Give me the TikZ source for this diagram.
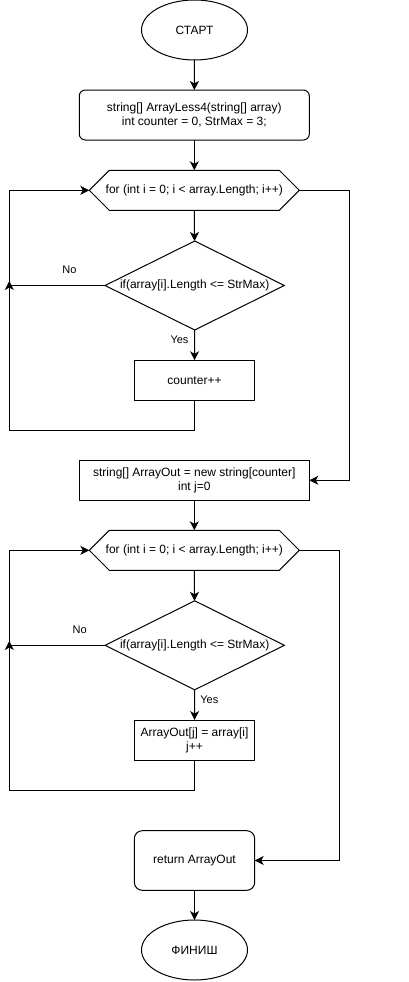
\documentclass[tikz,border=0pt]{standalone}
\usepackage{fontspec}
\setmainfont{Liberation Sans}
\usetikzlibrary{shapes.geometric,arrows.meta}
\begin{document}
\begin{tikzpicture}[x=1pt,y=-1pt,
  font=\fontsize{12}{14.5}\selectfont,
  line width=1pt,
  every node/.style={inner sep=0pt,outer sep=0pt},
  arr/.style={-{Stealth[length=9pt,width=9pt,inset=2.5pt]}},
  term/.style={ellipse,draw,minimum width=106pt,minimum height=60pt},
  proc/.style={rectangle,draw,align=center,minimum height=40.4pt},
  rproc/.style={rectangle,draw,rounded corners=6pt,align=center},
  hexbox/.style={rectangle,minimum width=210pt,minimum height=40pt},
  decbox/.style={rectangle,minimum width=179.3pt,minimum height=89pt},
  lbl/.style={font=\fontsize{11}{13}\selectfont}
]
\useasboundingbox (0,0) rectangle (408,982);

% nodes
\node[term] (start) at (194.5,30) {СТАРТ};
\node[rproc,minimum width=230pt,minimum height=50pt] (b1) at (194.3,115) {string[] ArrayLess4(string[] array)\\int counter = 0, StrMax = 3;};
\node[hexbox] (h1) at (194.3,190.3) {for (int i = 0; i < array.Length; i++)};
\node[decbox] (d1) at (194.7,285.5) {if(array[i].Length <= StrMax)};
\node[proc,minimum width=120.4pt] (c1) at (194.5,380.5) {counter++};
\node[proc,minimum width=230pt] (b2) at (194.3,480.3) {string[] ArrayOut = new string[counter]\\int j=0};
\node[hexbox] (h2) at (194.3,550.3) {for (int i = 0; i < array.Length; i++)};
\node[decbox] (d2) at (194.7,645.3) {if(array[i].Length <= StrMax)};
\node[proc,minimum width=120.4pt,minimum height=40.3pt] (c2) at (194.5,740.2) {ArrayOut[j] = array[i]\\j++};
\node[rproc,minimum width=120.4pt,minimum height=59.6pt,rounded corners=8pt] (ret) at (194.5,860.5) {return ArrayOut};
\node[term] (fin) at (194.5,950) {ФИНИШ};

% hexagon and diamond outlines
\foreach \h in {h1,h2}{
  \draw (\h.west) -- ([xshift=20pt]\h.north west) -- ([xshift=-20pt]\h.north east)
    -- (\h.east) -- ([xshift=-20pt]\h.south east) -- ([xshift=20pt]\h.south west) -- cycle;
}
\foreach \d in {d1,d2}{
  \draw (\d.north) -- (\d.east) -- (\d.south) -- (\d.west) -- cycle;
}

% helper coordinates
\coordinate (no1) at (9.3,281);
\coordinate (lb1) at (9.3,430);
\coordinate (r1) at (349.3,480.3);
\coordinate (no2) at (9.3,641);
\coordinate (lb2) at (9.3,790.3);
\coordinate (r2) at (339.3,860.5);

% connectors
\draw[arr] (start) -- (b1);
\draw[arr] (b1) -- (h1);
\draw[arr] (h1) -- (d1);
\draw[arr] (d1) -- (c1);
\draw[arr] (d1.west) -| (no1);
\draw[arr] (c1.south) |- (lb1) |- (h1.west);
\draw[arr] (h1.east) -| (r1) -- (b2.east);
\draw[arr] (b2) -- (h2);
\draw[arr] (h2) -- (d2);
\draw[arr] (d2) -- (c2);
\draw[arr] (d2.west) -| (no2);
\draw[arr] (c2.south) |- (lb2) |- (h2.west);
\draw[arr] (h2.east) -| (r2) -- (ret.east);
\draw[arr] (ret) -- (fin);

% labels
\node[lbl] (lno1) at (69.5,270) {No};
\node[lbl] (lyes1) at (179.5,340) {Yes};
\node[lbl] (lno2) at (79.7,630) {No};
\node[lbl] (lyes2) at (209.3,700) {Yes};
\end{tikzpicture}
\end{document}
